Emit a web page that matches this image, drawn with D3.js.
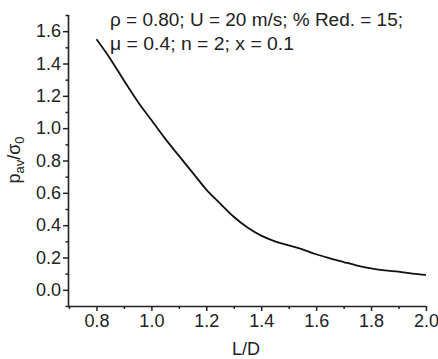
<!DOCTYPE html>
<html>
<head>
<meta charset="utf-8">
<script src="https://cdn.jsdelivr.net/npm/d3@7"></script>
<style>
  html, body { margin: 0; padding: 0; background: #fff; }
  svg { display: block; }
  text { font-family: "Liberation Sans", Arial, sans-serif; fill: #222; }
</style>
</head>
<body>
<svg id="chart" width="438" height="359"></svg>
<script>
// Data
const ratioLD = [0.80, 0.85, 0.90, 0.95, 1.00, 1.05, 1.10, 1.15, 1.20, 1.25, 1.30, 1.35, 1.40,
                 1.45, 1.50, 1.55, 1.60, 1.65, 1.70, 1.75, 1.80, 1.85, 1.90, 1.95, 2.00];
const pressure = [1.55, 1.43, 1.295, 1.165, 1.05, 0.935, 0.83, 0.725, 0.62, 0.535, 0.452, 0.385, 0.335,
                  0.30, 0.275, 0.25, 0.22, 0.195, 0.172, 0.15, 0.133, 0.12, 0.112, 0.10, 0.092];
const xTicks = [0.8, 1.0, 1.2, 1.4, 1.6, 1.8, 2.0];
const xMinorTicks = [0.7, 0.9, 1.1, 1.3, 1.5, 1.7, 1.9];
const yTicks = [0.0, 0.2, 0.4, 0.6, 0.8, 1.0, 1.2, 1.4, 1.6];
const yMinorTicks = [-0.1, 0.1, 0.3, 0.5, 0.7, 0.9, 1.1, 1.3, 1.5, 1.7];
const annotationLines = ["ρ = 0.80; U = 20 m/s; % Red. = 15;", "μ = 0.4; n = 2; x = 0.1"];

const svg = d3.select("#chart");
const mLeft = 69, mRight = 426, mTop = 15, mBottom = 306;

const x = d3.scaleLinear().domain([0.7, 2.0]).range([mLeft, mRight]);
const y = d3.scaleLinear().domain([-0.1, 1.7]).range([mBottom, mTop]);

const axisColor = "#222";
const fontSize = 18;
const fam = '"Liberation Sans", Arial, sans-serif';

// X axis
const gx = svg.append("g").attr("transform", `translate(0,${mBottom})`);
gx.call(d3.axisBottom(x).tickValues(xMinorTicks).tickSize(3).tickFormat(""));
gx.call(g => g.select(".domain").remove());
const gx2 = svg.append("g").attr("transform", `translate(0,${mBottom})`)
  .call(d3.axisBottom(x).tickValues(xTicks).tickSize(5).tickPadding(3).tickFormat(d3.format(".1f")));
[gx, gx2].forEach(g => {
  g.selectAll("line").attr("stroke", axisColor).attr("stroke-width", 1.5);
  g.selectAll("path").attr("stroke", axisColor).attr("stroke-width", 1.6);
  g.selectAll("text").attr("font-size", fontSize).style("font-family", fam).attr("fill", "#222");
});

// Y axis
const gy = svg.append("g").attr("transform", `translate(${mLeft},0)`);
gy.call(d3.axisLeft(y).tickValues(yMinorTicks).tickSize(3.5).tickFormat(""));
gy.call(g => g.select(".domain").remove());
const gy2 = svg.append("g").attr("transform", `translate(${mLeft},0)`)
  .call(d3.axisLeft(y).tickValues(yTicks).tickSize(6).tickPadding(2).tickFormat(d3.format(".1f")));
[gy, gy2].forEach(g => {
  g.selectAll("line").attr("stroke", axisColor).attr("stroke-width", 1.5);
  g.selectAll("path").attr("stroke", axisColor).attr("stroke-width", 1.6);
  g.selectAll("text").attr("font-size", fontSize).style("font-family", fam).attr("fill", "#222");
});
gx2.select(".domain").attr("d", `M${mLeft},0.5H${mRight}`);
gy2.select(".domain").attr("d", `M-0.5,${mBottom}V${mTop}`);

// Curve
const line = d3.line().x((d, i) => x(ratioLD[i])).y(d => y(d)).curve(d3.curveMonotoneX);
svg.append("path")
  .datum(pressure)
  .attr("d", line)
  .attr("fill", "none")
  .attr("stroke", "#111")
  .attr("stroke-width", 1.8);

// Annotation
svg.append("text")
  .attr("x", 110).attr("y", 26)
  .attr("font-size", 17.5)
  .attr("textLength", 293).attr("lengthAdjust", "spacingAndGlyphs")
  .text(annotationLines[0]);
svg.append("text")
  .attr("x", 110).attr("y", 50)
  .attr("font-size", 17.5)
  .attr("textLength", 184).attr("lengthAdjust", "spacingAndGlyphs")
  .text(annotationLines[1]);

// X label
svg.append("text")
  .attr("x", 246).attr("y", 355)
  .attr("text-anchor", "middle")
  .attr("font-size", fontSize)
  .text("L/D");

// Y label
const yl = svg.append("text")
  .attr("transform", "translate(20,160) rotate(-90)")
  .attr("text-anchor", "middle")
  .attr("font-size", fontSize);
yl.append("tspan").text("p");
yl.append("tspan").attr("font-size", 13).attr("dy", 4).text("av");
yl.append("tspan").attr("dy", -4).text("/σ");
yl.append("tspan").attr("font-size", 13).attr("dy", 4).text("0");
</script>
</body>
</html>
